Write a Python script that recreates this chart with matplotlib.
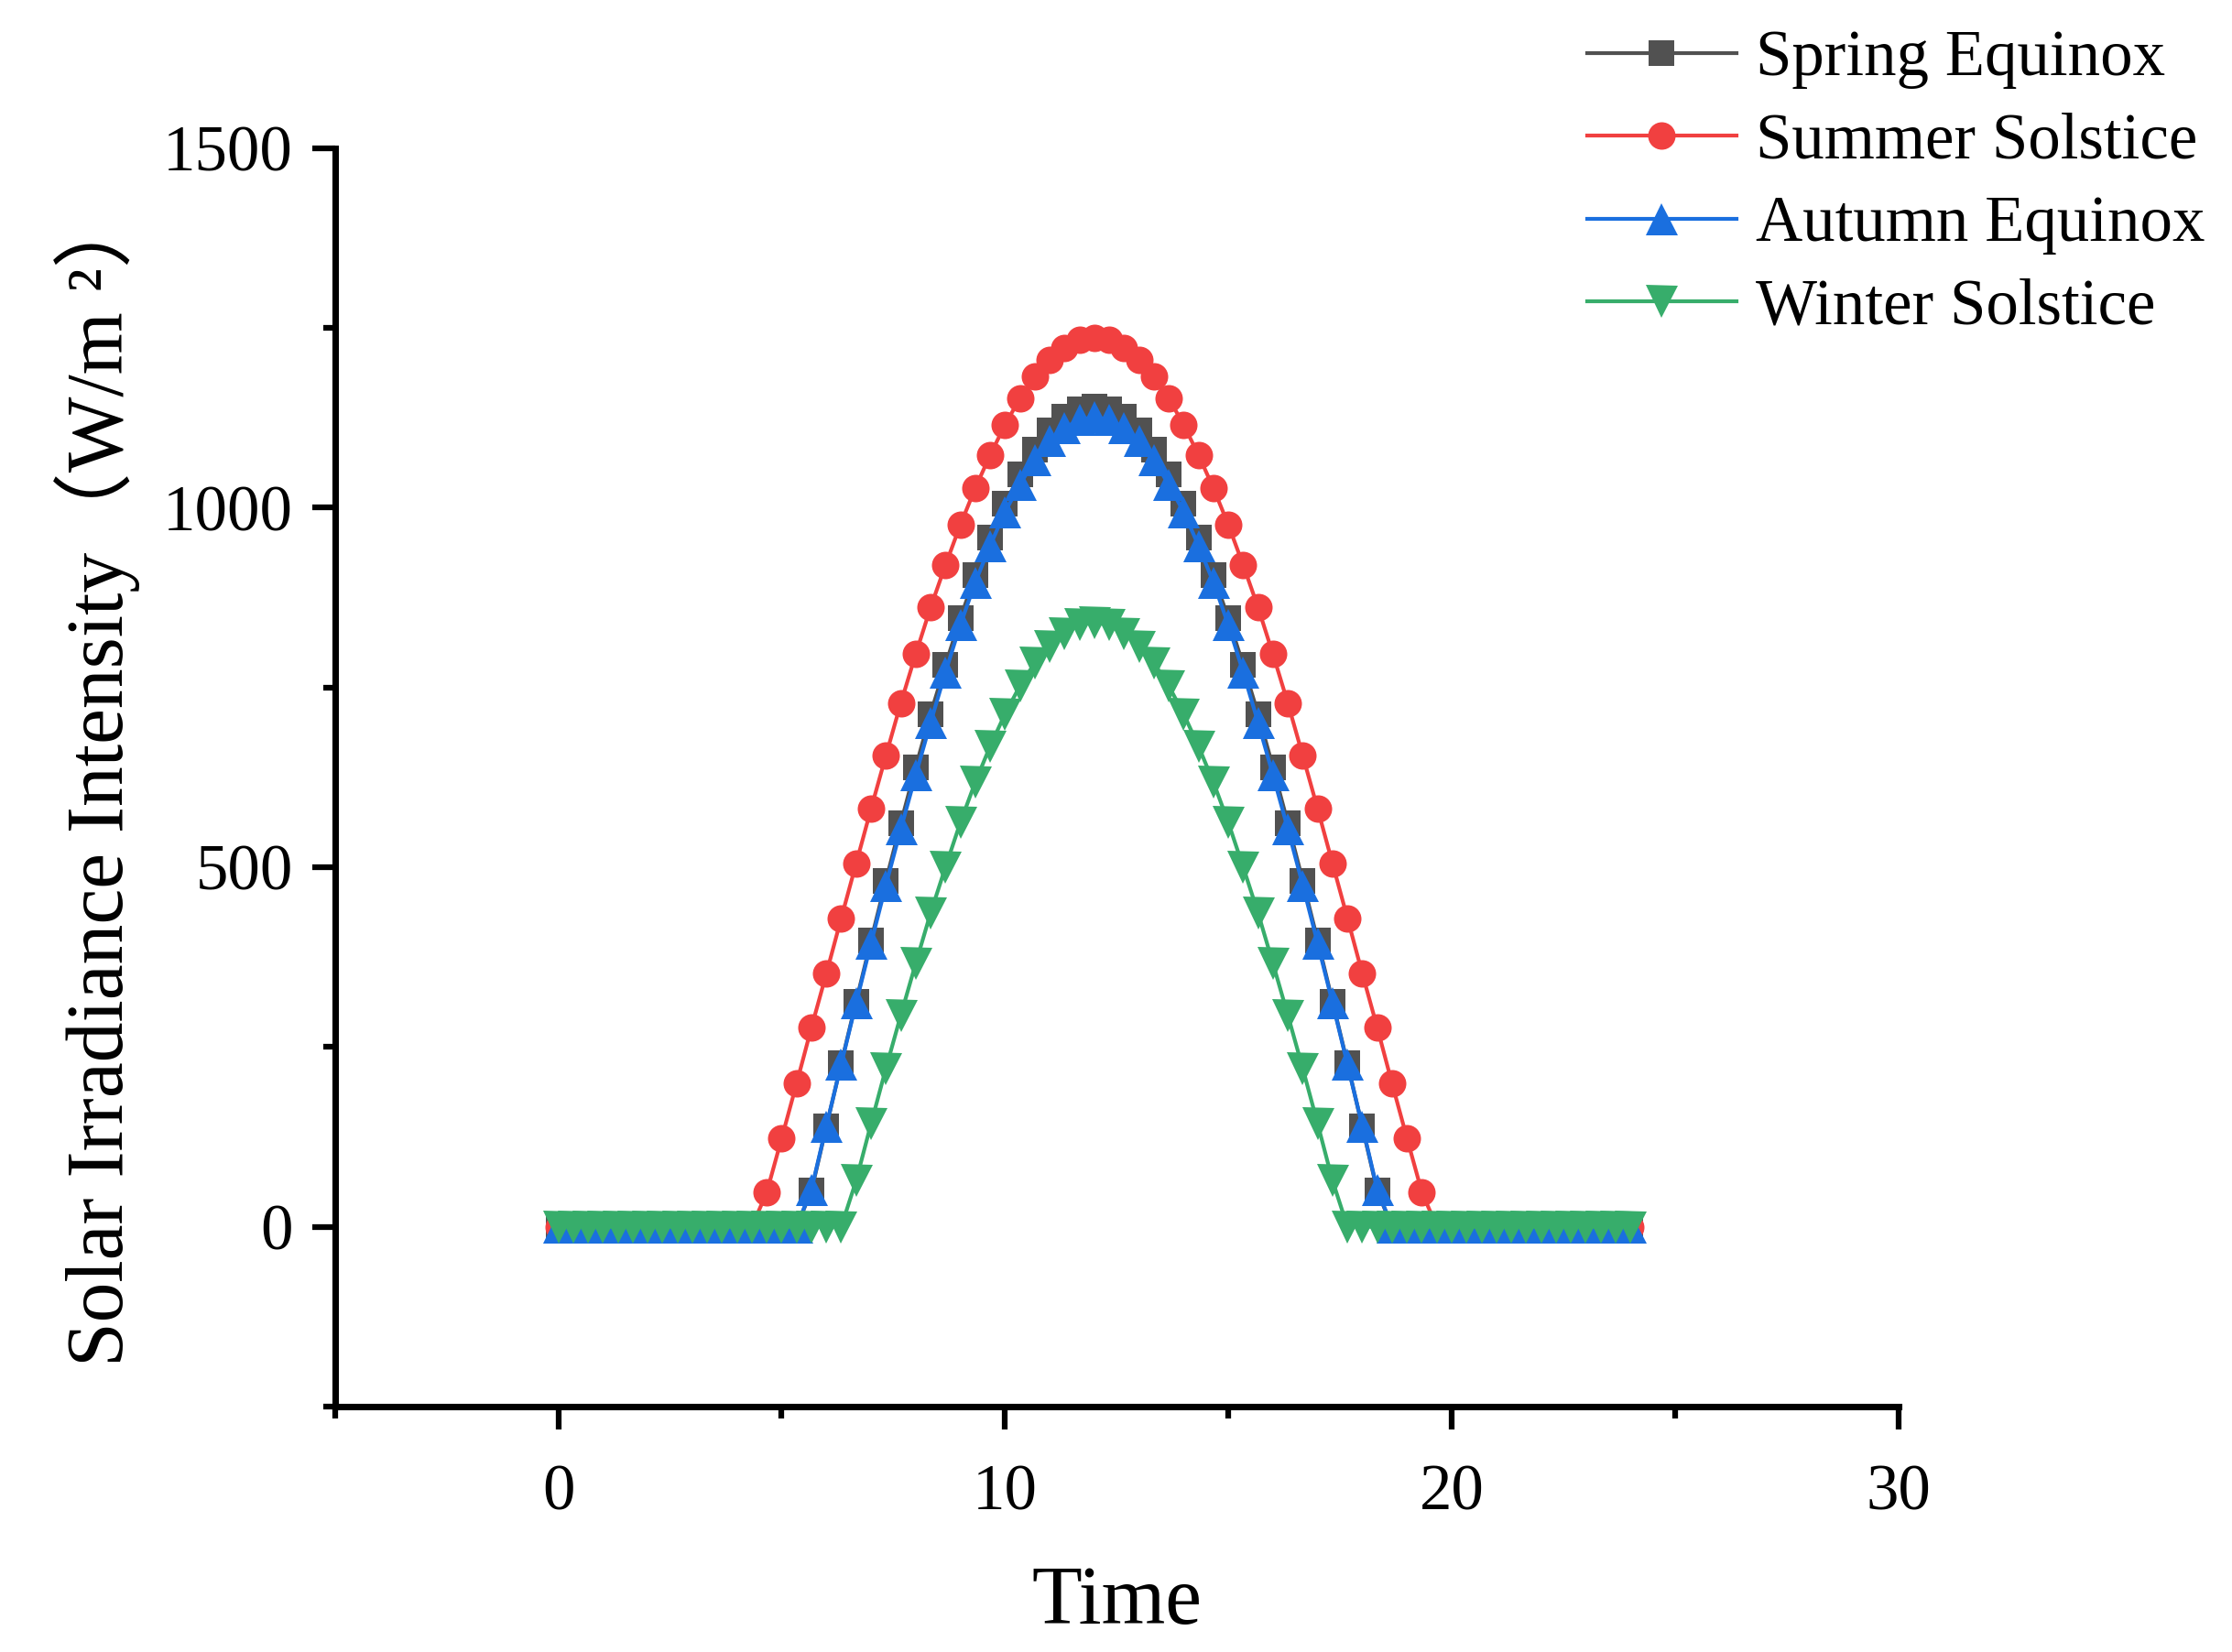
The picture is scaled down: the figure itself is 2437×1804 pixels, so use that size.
import matplotlib
matplotlib.use("Agg")
import matplotlib.pyplot as plt
import numpy as np

# time of day, 20 minute steps from 0 to 24 h
hours = np.linspace(0, 24, 73)

spring = [0] * 17 + [
    50, 139, 227, 313, 398, 481, 561, 639, 713, 781, 846, 906, 958, 1005,
    1046, 1080, 1107, 1126, 1137, 1141,
    1137, 1126, 1107, 1080, 1046, 1005, 958, 906, 846, 781, 713, 639, 561,
    481, 398, 313, 227, 139, 50] + [0] * 17

summer = [0] * 14 + [
    48, 123, 199, 277, 352, 429, 505, 581, 655, 728, 796, 861, 920, 976,
    1027, 1073, 1115, 1152, 1183, 1206, 1222, 1233, 1236,
    1233, 1222, 1206, 1183, 1152, 1115, 1073, 1027, 976, 920, 861, 796, 728,
    655, 581, 505, 429, 352, 277, 199, 123, 48] + [0] * 14

autumn = [0] * 17 + [
    52, 140, 226, 311, 394, 475, 553, 628, 701, 771, 837, 896, 947, 994,
    1032, 1066, 1093, 1111, 1122, 1126,
    1122, 1111, 1093, 1066, 1032, 994, 947, 896, 837, 771, 701, 628, 553,
    475, 394, 311, 226, 140, 52] + [0] * 17

winter = [0] * 20 + [
    64, 143, 220, 294, 366, 436, 500, 562, 618, 668, 713, 752, 784, 807,
    825, 837, 840,
    837, 825, 807, 784, 752, 713, 668, 618, 562, 500, 436, 366, 294, 220,
    143, 64] + [0] * 20

series = [
    ("Spring Equinox", spring, "#515151", "s", 6.8),
    ("Summer Solstice", summer, "#F14040", "o", 7.2),
    ("Autumn Equinox", autumn, "#1A6FDF", "^", 8.4),
    ("Winter Solstice", winter, "#37AD6B", "v", 8.4),
]

plt.rcParams["font.family"] = ["Liberation Serif", "Noto Sans CJK SC"]

fig = plt.figure(figsize=(2437 / 300, 1804 / 300), dpi=300)
ax = fig.add_axes([0.1501, 0.1486, 0.7004, 0.7618])

for name, vals, col, mk, ms in series:
    ax.plot(hours, vals, color=col, lw=1.0, marker=mk, markersize=ms,
            markeredgewidth=0, label=name)

ax.set_xlim(-5, 30)
ax.set_ylim(-250, 1500)
ax.set_xticks([0, 10, 20, 30])
ax.set_xticks([-5, 5, 15, 25], minor=True)
ax.set_yticks([0, 500, 1000, 1500])
ax.set_yticks([-250, 250, 750, 1250], minor=True)

for s in ["top", "right"]:
    ax.spines[s].set_visible(False)
for s in ["left", "bottom"]:
    ax.spines[s].set_linewidth(1.7)

ax.tick_params(which="major", length=6, width=1.5, labelsize=17, direction="out")
ax.tick_params(which="minor", length=3.2, width=1.5, direction="out")
ax.tick_params(axis="x", which="major", pad=9)
ax.tick_params(axis="y", which="major", pad=5)

ax.set_xlabel("Time", fontsize=21.5, labelpad=11)
ax.set_ylabel("Solar Irradiance Intensity（W/m ²）", fontsize=21, labelpad=6)

fig.legend(loc="upper left", bbox_to_anchor=(0.711, 0.982), frameon=False,
           fontsize=17, handlelength=2.3, handletextpad=0.3, labelspacing=0.36,
           borderpad=0, borderaxespad=0)

fig.savefig("out.png", dpi=300)
